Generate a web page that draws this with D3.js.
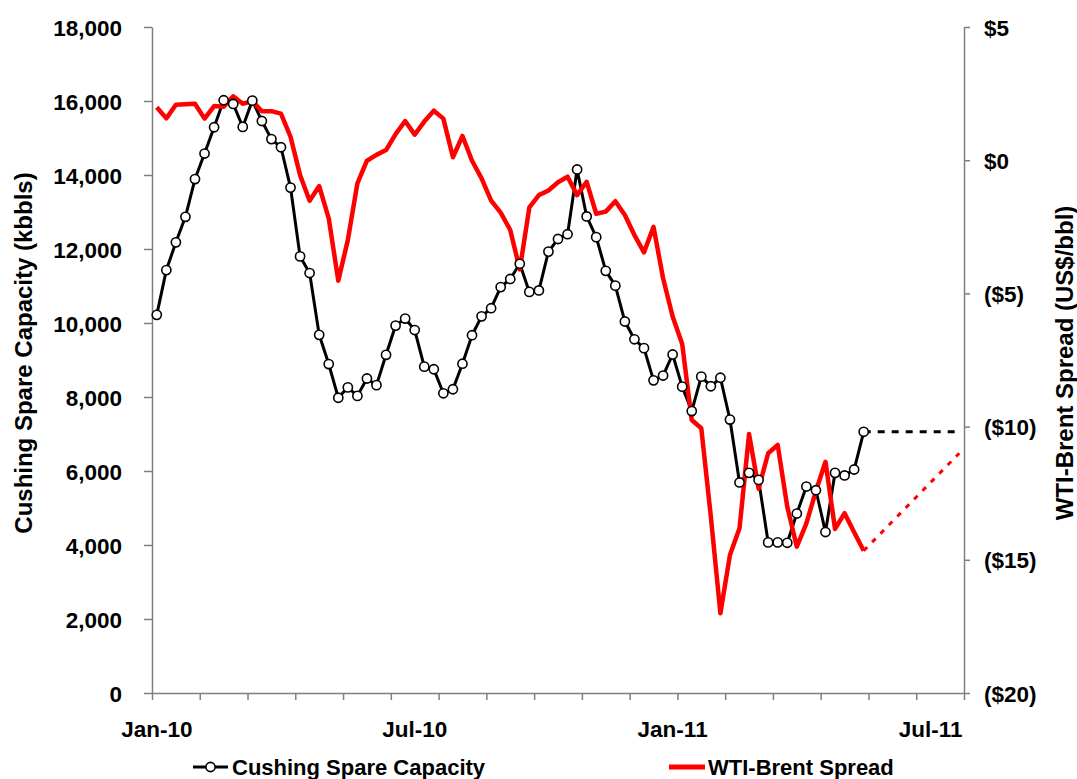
<!DOCTYPE html>
<html>
<head>
<meta charset="utf-8">
<script src="https://cdn.jsdelivr.net/npm/d3@7"></script>
<style>
  html, body { margin: 0; padding: 0; background: #fff; }
  svg { display: block; font-family: "Liberation Sans", Arial, sans-serif; font-weight: bold; }
</style>
</head>
<body>
<svg id="chart" width="1077" height="779"></svg>
<script>
// Weekly observations, Jan-2010 onward (85 weekly slots on the axis)
const weekCount = 85;
const startWeek = new Date(Date.UTC(2010, 0, 1));
const weeks = d3.range(weekCount).map(i => d3.utcDay.offset(startWeek, 7 * i));

// Cushing spare storage capacity, kbbls
const cushingSpare = [
  10220, 11430, 12180, 12870, 13890, 14580, 15290, 16020, 15920, 15300,
  16010, 15460, 14970, 14750, 13660, 11800, 11350, 9680, 8890, 7980,
  8260, 8030, 8500, 8320, 9140, 9930, 10120, 9810, 8820, 8750,
  8100, 8210, 8900, 9670, 10180, 10400, 10970, 11190, 11600, 10840,
  10880, 11930, 12270, 12400, 14150, 12880, 12320, 11410, 11010, 10040,
  9560, 9320, 8450, 8580, 9150, 8280, 7620, 8550, 8290, 8520,
  7390, 5690, 5950, 5760, 4070, 4070, 4060, 4850, 5580, 5480,
  4350, 5950, 5880, 6040, 7060
];

// WTI minus Brent, US$/bbl
const wtiBrent = [
  1.99, 1.57, 2.08, 2.10, 2.12, 1.56, 2.03, 2.01, 2.40, 2.12,
  2.22, 1.84, 1.84, 1.75, 0.88, -0.56, -1.52, -0.97, -2.18, -4.52,
  -3.00, -0.87, -0.02, 0.20, 0.38, 0.98, 1.47, 0.96, 1.45, 1.86,
  1.56, 0.11, 0.91, -0.02, -0.68, -1.52, -1.97, -2.62, -4.10, -1.77,
  -1.31, -1.14, -0.83, -0.62, -1.31, -0.81, -2.01, -1.93, -1.54, -2.06,
  -2.81, -3.46, -2.50, -4.43, -5.87, -6.90, -9.75, -10.06, -13.38, -17.01,
  -14.82, -13.82, -10.28, -12.33, -11.00, -10.69, -13.01, -14.51, -13.63, -12.42,
  -11.32, -13.84, -13.25, -13.97, -14.66
];

// Forward projections: [week index, value]
const cushingProjection = [[74, 7060], [84, 7060]];
const spreadProjection = [[74, -14.66], [84, -11.0]];

// Axis ticks and labels
const leftTicks = d3.range(0, 18001, 2000);
const rightTicks = [5, 0, -5, -10, -15, -20];
const xTickEvery = 5;
const xLabelWeeks = [0, 27, 54, 81];

const svg = d3.select("#chart");
const plotLeft = 152, plotRight = 964, plotTop = 27, plotBottom = 693;

const xEdge = d3.scaleLinear().domain([0, weekCount]).range([plotLeft, plotRight]);
const x = i => xEdge(i + 0.5);
const yL = d3.scaleLinear().domain([0, 18000]).range([plotBottom, plotTop]);
const yR = d3.scaleLinear().domain([-20, 5]).range([plotBottom, plotTop]);

const axisColor = "#7f7f7f";
function styleAxis(g) {
  g.selectAll("path.domain").attr("stroke", axisColor).attr("stroke-width", 1.5);
  g.selectAll(".tick line").attr("stroke", axisColor).attr("stroke-width", 1.5);
  g.selectAll(".tick text")
    .attr("fill", "#000")
    .attr("font-size", 22.5)
    .attr("font-weight", "bold")
    .attr("font-family", "'Liberation Sans', Arial, sans-serif");
}

// x axis: tick marks every 5 weeks
svg.append("g")
  .attr("transform", `translate(0,${plotBottom})`)
  .call(d3.axisBottom(xEdge)
    .tickValues(d3.range(0, weekCount + 1, xTickEvery))
    .tickFormat("")
    .tickSize(7)
    .tickSizeOuter(0))
  .call(styleAxis);

// x labels on selected weeks
const fmt = d3.utcFormat("%b-%y");
svg.append("g").selectAll("text")
  .data(xLabelWeeks)
  .join("text")
  .attr("x", d => x(d))
  .attr("y", 737)
  .attr("text-anchor", "middle")
  .attr("font-size", 22.5)
  .text(d => fmt(weeks[d]));

// left axis
svg.append("g")
  .attr("transform", `translate(${plotLeft},0)`)
  .call(d3.axisLeft(yL)
    .tickValues(leftTicks)
    .tickFormat(d3.format(","))
    .tickSize(8)
    .tickSizeOuter(0)
    .tickPadding(22))
  .call(styleAxis)
  .call(g => g.selectAll(".tick text").attr("dy", "0.36em"));

// right axis
const fmtDollar = v => v < 0 ? `($${Math.abs(v)})` : `$${v}`;
svg.append("g")
  .attr("transform", `translate(${plotRight},0)`)
  .call(d3.axisRight(yR)
    .tickValues(rightTicks)
    .tickFormat(fmtDollar)
    .tickSize(6)
    .tickSizeOuter(0)
    .tickPadding(14))
  .call(styleAxis)
  .call(g => g.selectAll(".tick text").attr("dy", "0.36em"));

// axis titles
svg.append("text")
  .attr("transform", `translate(32,353) rotate(-90)`)
  .attr("text-anchor", "middle")
  .attr("font-size", 24)
  .text("Cushing Spare Capacity (kbbls)");

svg.append("text")
  .attr("transform", `translate(1073,363) rotate(-90)`)
  .attr("text-anchor", "middle")
  .attr("font-size", 24)
  .text("WTI-Brent Spread (US$/bbl)");

// projections
svg.append("path")
  .datum(cushingProjection)
  .attr("fill", "none")
  .attr("stroke", "#000")
  .attr("stroke-width", 3)
  .attr("stroke-dasharray", "7,7")
  .attr("d", d3.line().x(d => x(d[0])).y(d => yL(d[1])));

svg.append("path")
  .datum(spreadProjection)
  .attr("fill", "none")
  .attr("stroke", "#ff0000")
  .attr("stroke-width", 3)
  .attr("stroke-dasharray", "5,7")
  .attr("d", d3.line().x(d => x(d[0])).y(d => yR(d[1])));

// spare capacity line
svg.append("path")
  .datum(cushingSpare)
  .attr("fill", "none")
  .attr("stroke", "#000")
  .attr("stroke-width", 3)
  .attr("stroke-linejoin", "round")
  .attr("d", d3.line().x((d, i) => x(i)).y(d => yL(d)));

// spread line
svg.append("path")
  .datum(wtiBrent)
  .attr("fill", "none")
  .attr("stroke", "#ff0000")
  .attr("stroke-width", 4.5)
  .attr("stroke-linejoin", "round")
  .attr("d", d3.line().x((d, i) => x(i)).y(d => yR(d)));

// spare capacity markers
svg.append("g").selectAll("circle")
  .data(cushingSpare)
  .join("circle")
  .attr("cx", (d, i) => x(i))
  .attr("cy", d => yL(d))
  .attr("r", 4.6)
  .attr("fill", "#fff")
  .attr("stroke", "#000")
  .attr("stroke-width", 1.6);

// legend
const legend = svg.append("g");
legend.append("line")
  .attr("x1", 193).attr("x2", 228).attr("y1", 767).attr("y2", 767)
  .attr("stroke", "#000").attr("stroke-width", 3);
legend.append("circle")
  .attr("cx", 210.5).attr("cy", 767).attr("r", 4.6)
  .attr("fill", "#fff").attr("stroke", "#000").attr("stroke-width", 1.6);
legend.append("text")
  .attr("x", 232).attr("y", 775)
  .attr("font-size", 22)
  .text("Cushing Spare Capacity");

legend.append("line")
  .attr("x1", 669).attr("x2", 705).attr("y1", 767).attr("y2", 767)
  .attr("stroke", "#ff0000").attr("stroke-width", 5);
legend.append("text")
  .attr("x", 708).attr("y", 775)
  .attr("font-size", 22)
  .text("WTI-Brent Spread");
</script>
</body>
</html>
